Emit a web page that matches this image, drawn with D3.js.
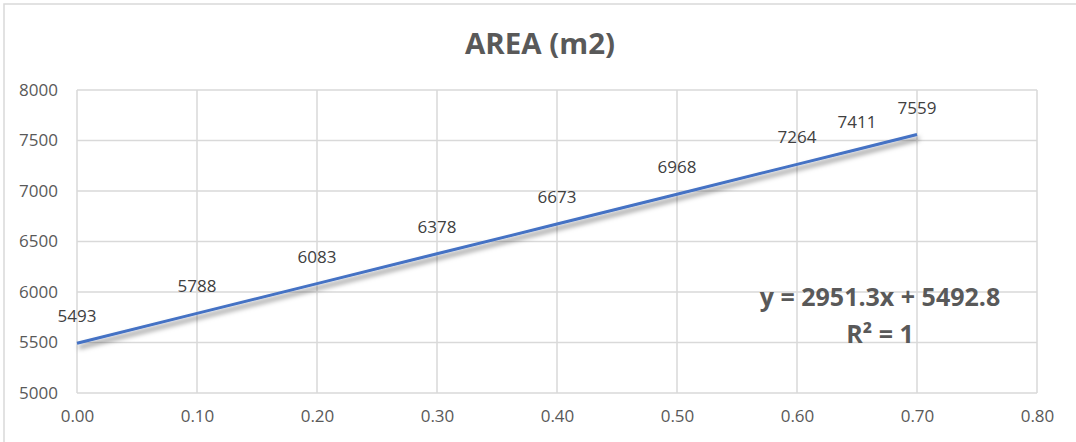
<!DOCTYPE html>
<html>
<head>
<meta charset="utf-8">
<script src="https://cdn.jsdelivr.net/npm/d3@7"></script>
<style>
  body { margin: 0; background: #fff; }
  svg { display: block; font-family: "Open Sans", sans-serif; }
</style>
</head>
<body>
<div id="chart"></div>
<script>
// data
var xValues = [0, 0.1, 0.2, 0.3, 0.4, 0.5, 0.6, 0.65, 0.7];
var areaValues = [5493, 5788, 6083, 6378, 6673, 6968, 7264, 7411, 7559];
var xTicks = [0, 0.1, 0.2, 0.3, 0.4, 0.5, 0.6, 0.7, 0.8];
var yTicks = [5000, 5500, 6000, 6500, 7000, 7500, 8000];
var title = "AREA (m2)";
var trendText = ["y = 2951.3x + 5492.8", "R\u00b2 = 1"];

var width = 1076, height = 442;
var margin = {top: 90, right: 39, bottom: 49, left: 77};

var svg = d3.select("#chart").append("svg")
    .attr("width", width)
    .attr("height", height);

// chart border
svg.append("rect")
    .attr("x", 4).attr("y", 4)
    .attr("width", width + 10).attr("height", height + 10)
    .attr("fill", "none")
    .attr("stroke", "#d9d9d9")
    .attr("stroke-width", 1.5);

var defs = svg.append("defs");
var shadow = defs.append("filter")
    .attr("id", "shadow")
    .attr("x", "-5%").attr("y", "-20%")
    .attr("width", "110%").attr("height", "160%");
shadow.append("feDropShadow")
    .attr("dx", 2).attr("dy", 4)
    .attr("stdDeviation", 2.5)
    .attr("flood-color", "#000")
    .attr("flood-opacity", 0.5);

var x = d3.scaleLinear()
    .domain([0, 0.8])
    .range([margin.left, width - margin.right]);

var y = d3.scaleLinear()
    .domain([5000, 8000])
    .range([height - margin.bottom, margin.top]);

// title
svg.append("text")
    .attr("x", 540)
    .attr("y", 54)
    .attr("text-anchor", "middle")
    .attr("font-size", 29)
    .attr("font-weight", "bold")
    .attr("fill", "#595959")
    .attr("textLength", 150)
    .attr("lengthAdjust", "spacingAndGlyphs")
    .text(title);

// gridlines
svg.append("g")
  .selectAll("line.h")
  .data(yTicks)
  .enter().append("line")
    .attr("x1", x(0)).attr("x2", x(0.8))
    .attr("y1", d => y(d)).attr("y2", d => y(d))
    .attr("stroke", "#d9d9d9")
    .attr("stroke-width", 1.5);

svg.append("g")
  .selectAll("line.v")
  .data(xTicks)
  .enter().append("line")
    .attr("x1", d => x(d)).attr("x2", d => x(d))
    .attr("y1", y(5000)).attr("y2", y(8000))
    .attr("stroke", "#d9d9d9")
    .attr("stroke-width", 1.5);

// axes labels
var yAxis = d3.axisLeft(y).tickValues(yTicks).tickSize(0).tickPadding(19)
    .tickFormat(d3.format("d"));
svg.append("g")
    .attr("transform", "translate(" + margin.left + ",0)")
    .call(yAxis)
    .call(g => g.select(".domain").remove())
    .selectAll("text")
    .attr("font-family", "Open Sans, sans-serif")
    .attr("font-size", 17)
    .attr("fill", "#595959");

var xAxis = d3.axisBottom(x).tickValues(xTicks).tickSize(0).tickPadding(17)
    .tickFormat(d3.format(".2f"));
svg.append("g")
    .attr("transform", "translate(0," + y(5000) + ")")
    .call(xAxis)
    .call(g => g.select(".domain").remove())
    .selectAll("text")
    .attr("font-family", "Open Sans, sans-serif")
    .attr("font-size", 17)
    .attr("fill", "#595959");

// series line
var points = xValues.map((d, i) => [d, areaValues[i]]);
var line = d3.line()
    .x(d => x(d[0]))
    .y(d => y(d[1]));

svg.append("path")
    .datum(points)
    .attr("d", line)
    .attr("fill", "none")
    .attr("stroke", "#4472c4")
    .attr("stroke-width", 3)
    .attr("filter", "url(#shadow)");

// data labels above points
svg.append("g")
  .selectAll("text")
  .data(points)
  .enter().append("text")
    .attr("x", d => x(d[0]))
    .attr("y", d => y(d[1]) - 21)
    .attr("text-anchor", "middle")
    .attr("font-size", 17)
    .attr("fill", "#404040")
    .text(d => d[1]);

// trendline equation
svg.append("g")
  .selectAll("text")
  .data(trendText)
  .enter().append("text")
    .attr("x", 880)
    .attr("y", (d, i) => 306 + i * 37)
    .attr("text-anchor", "middle")
    .attr("font-size", 25)
    .attr("font-weight", "bold")
    .attr("fill", "#595959")
    .text(d => d);
</script>
</body>
</html>
